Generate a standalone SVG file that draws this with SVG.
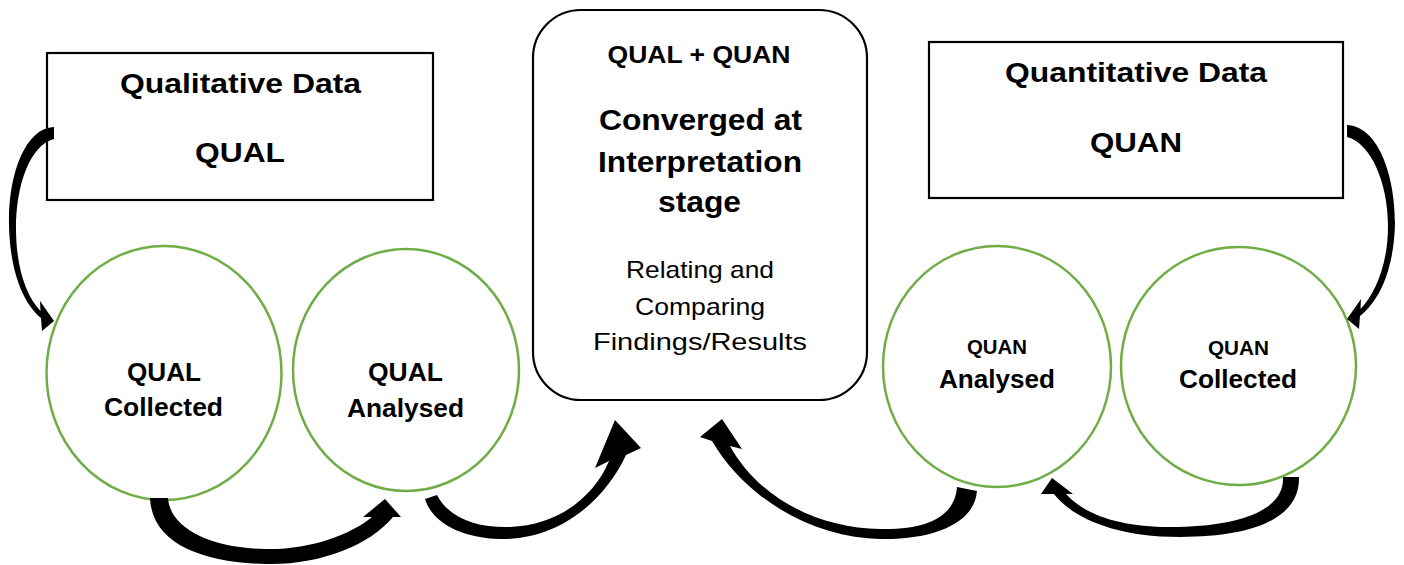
<svg xmlns="http://www.w3.org/2000/svg" width="1404" height="565" viewBox="0 0 1404 565">
<style>
.box{fill:#fff;stroke:#000;stroke-width:2.2}
.circ{fill:#fff;stroke:#70AD47;stroke-width:2.5}
.arr{fill:#000;stroke:none}
text{font-family:"Liberation Sans",Arial,sans-serif;fill:#000;text-anchor:middle}
.b{font-weight:bold}
</style>
<rect width="1404" height="565" fill="#fff"/>
<g id="qual-box">
<rect class="box" x="47" y="53" width="386" height="147"/>
<text class="b" x="240.5" y="93" font-size="28" textLength="241" lengthAdjust="spacingAndGlyphs">Qualitative Data</text>
<text class="b" x="240" y="162" font-size="28" textLength="90" lengthAdjust="spacingAndGlyphs">QUAL</text>
</g>
<g id="quan-box">
<rect class="box" x="929" y="42" width="414" height="156"/>
<text class="b" x="1136" y="82" font-size="28" textLength="262" lengthAdjust="spacingAndGlyphs">Quantitative Data</text>
<text class="b" x="1136" y="152" font-size="28" textLength="92" lengthAdjust="spacingAndGlyphs">QUAN</text>
</g>
<g id="converged">
<rect class="box" x="533" y="10" width="334" height="390" rx="48" ry="48" stroke-width="2.5"/>
<text class="b" x="699" y="63" font-size="24" textLength="183" lengthAdjust="spacingAndGlyphs">QUAL + QUAN</text>
<text class="b" x="700.5" y="130" font-size="29" textLength="203" lengthAdjust="spacingAndGlyphs">Converged at</text>
<text class="b" x="700" y="172" font-size="29" textLength="204" lengthAdjust="spacingAndGlyphs">Interpretation</text>
<text class="b" x="699.5" y="212" font-size="29" textLength="83" lengthAdjust="spacingAndGlyphs">stage</text>
<text x="700" y="278" font-size="24" textLength="148" lengthAdjust="spacingAndGlyphs">Relating and</text>
<text x="700" y="315" font-size="24" textLength="130" lengthAdjust="spacingAndGlyphs">Comparing</text>
<text x="700" y="350" font-size="24" textLength="214" lengthAdjust="spacingAndGlyphs">Findings/Results</text>
</g>
<g id="qual-collected">
<ellipse class="circ" cx="164" cy="373" rx="117.5" ry="127"/>
<text class="b" x="164" y="381" font-size="25" textLength="74" lengthAdjust="spacingAndGlyphs">QUAL</text>
<text class="b" x="163.5" y="416" font-size="25" textLength="119" lengthAdjust="spacingAndGlyphs">Collected</text>
</g>
<g id="qual-analysed">
<ellipse class="circ" cx="406" cy="370" rx="113" ry="121"/>
<text class="b" x="405.5" y="381" font-size="25" textLength="75" lengthAdjust="spacingAndGlyphs">QUAL</text>
<text class="b" x="405.5" y="417" font-size="25" textLength="117" lengthAdjust="spacingAndGlyphs">Analysed</text>
</g>
<g id="quan-analysed">
<ellipse class="circ" cx="997" cy="366.5" rx="114" ry="120.5"/>
<text class="b" x="997" y="354" font-size="20" textLength="60" lengthAdjust="spacingAndGlyphs">QUAN</text>
<text class="b" x="997" y="388" font-size="25" textLength="116" lengthAdjust="spacingAndGlyphs">Analysed</text>
</g>
<g id="quan-collected">
<ellipse class="circ" cx="1238.5" cy="366" rx="117.5" ry="119"/>
<text class="b" x="1238.5" y="355" font-size="20" textLength="61" lengthAdjust="spacingAndGlyphs">QUAN</text>
<text class="b" x="1238" y="388" font-size="25" textLength="118" lengthAdjust="spacingAndGlyphs">Collected</text>
</g>
<g id="connectors">
<path class="arr" d="M54,127 C25,128 8,175 9,225 C10,275 25,305 41,318 L42,331 L54,321 L40,301 L40.5,311 C25,295 16,265 16,228 C16,185 30,145 54,139 Z"/>
<path class="arr" d="M150,498 L168,498 C170,528 210,548 265,549 C310,550 350,535 372,517 L363,517 L385,499 L401,517 L393,517 C370,545 320,565 267,564 C205,563 152,545 150,498 Z"/>
<path class="arr" d="M425,499 L437,495 C450,520 480,528 510,527 C560,525 595,495 609,461 L595,468 L615,420 L641,448 L626,455 C605,500 560,540 500,539 C460,538 432,522 425,499 Z"/>
<path class="arr" d="M957,487 L977,491 C975,520 940,540 880,539 C820,538 750,505 712,441 L700,437 L722,419 L742,449 L730,446 C760,500 820,528 880,529 C930,530 955,515 957,487 Z"/>
<path class="arr" d="M1283,477 L1299,477 C1300,515 1260,537 1180,537 C1110,537 1070,515 1054,494 L1041,494 L1052,478 L1073,494 L1066,494 C1085,515 1120,527 1170,527 C1240,527 1285,510 1283,477 Z"/>
<path class="arr" d="M1347,125 C1377,126 1395,173 1395,223 C1394,273 1377,303 1360,316 L1359,329 L1347,319 L1361,299 L1360.5,309 C1376,293 1388,263 1388,226 C1388,183 1371,143 1347,137 Z"/>
</g>
</svg>
